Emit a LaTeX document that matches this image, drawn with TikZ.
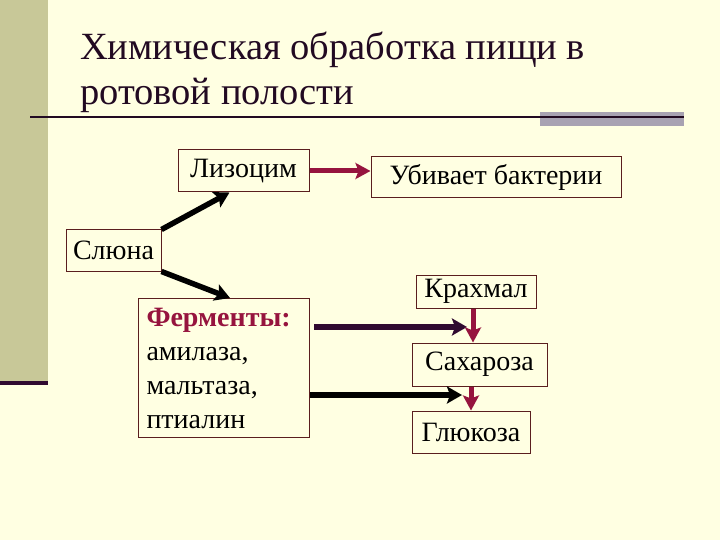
\documentclass[tikz,border=0pt]{standalone}
\usepackage{fontspec}
\setmainfont{Liberation Serif}
\usetikzlibrary{arrows.meta}
\definecolor{slideBg}{RGB}{255, 255, 226}
\definecolor{sideOlive}{RGB}{200, 200, 152}
\definecolor{barGray}{RGB}{168, 162, 178}
\definecolor{titleDark}{RGB}{34, 10, 34}
\definecolor{boxLine}{RGB}{90, 30, 30}
\definecolor{arrowRed}{RGB}{150, 20, 62}
\definecolor{arrowPlum}{RGB}{48, 10, 48}
\tikzset{
  box/.style={draw=boxLine, line width=1pt, inner sep=0pt, font=\fontsize{28}{34}\selectfont},
  titleText/.style={anchor=base west, inner sep=0pt, titleDark, font=\fontsize{38.5}{46}\selectfont},
  redArrow/.style={arrowRed, line width=5pt, -{Stealth[length=15pt,width=16pt,inset=3pt]}},
  darkArrow/.style={line width=5.5pt, -{Stealth[length=15pt,width=17pt,inset=3pt]}},
}
\begin{document}
\begin{tikzpicture}[x=1pt,y=-1pt]
        \fill[slideBg] (0,0) rectangle (720,540);
        \fill[sideOlive] (0,0) rectangle (48,381);
        \fill[arrowPlum] (0,381) rectangle (48,385);
        \fill[barGray] (540,112) rectangle (684,126);
        \draw[titleDark, line width=2pt] (30,117) -- (684,117);
        \node[titleText] (title1) at (80,60) {Химическая обработка пищи в};
        \node[titleText] (title2) at (80,105) {ротовой полости};
        \node[box, minimum width=131pt, minimum height=42pt] (lz) at (243.5,171) {Лизоцим};
        \node[box, minimum width=95pt, minimum height=41pt] (sl) at (113.5,250.5) {Слюна};
        \node[box, minimum width=250pt, minimum height=41pt] (ub) at (496,177.5) {Убивает бактерии};
        \node[box, anchor=north west, minimum width=171pt, minimum height=139pt, text width=155pt, inner xsep=8pt, align=left] (fe) at (138,298)
          {{\bfseries\color{arrowRed}Ферменты:}\\амилаза,\\мальтаза,\\птиалин};
        \node[box, minimum width=120pt, minimum height=33pt] (kr) at (476,291.5) {Крахмал};
        \node[box, minimum width=135pt, minimum height=43pt] (sa) at (479.5,364.5) {Сахароза};
        \node[box, minimum width=118pt, minimum height=42pt] (gl) at (471,432) {Глюкоза};
        \coordinate (toKr) at (467,327);
        \coordinate (toSa) at (462,395);
        \draw[darkArrow] (sl.north east) -- ([xshift=-14pt]lz.south);
        \draw[darkArrow] (sl.south east) -- ([xshift=6pt]fe.north);
        \draw[redArrow] (lz.east) -- (lz.east -| ub.west);
        \draw[darkArrow, arrowPlum] ([xshift=4pt, yshift=-29pt]fe.north east) -- (toKr);
        \draw[darkArrow] ([yshift=-97pt]fe.north east) -- (toSa);
        \draw[redArrow] ([xshift=-3pt]kr.south) -- ([xshift=-3pt]kr.south |- sa.north);
        \draw[redArrow] (gl.north |- sa.south) -- (gl.north);
      \end{tikzpicture}
\end{document}
